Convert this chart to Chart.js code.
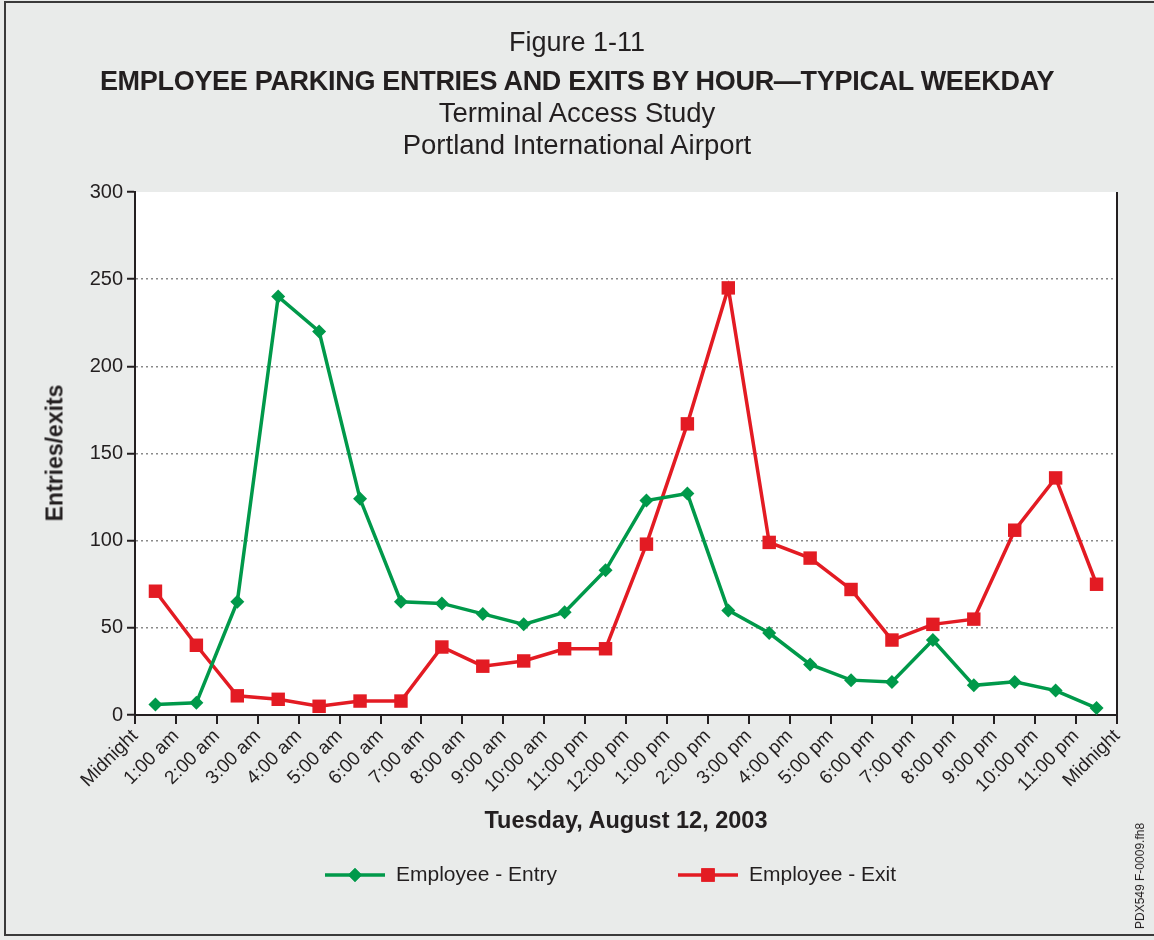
<!DOCTYPE html>
<html>
<head>
<meta charset="utf-8">
<script src="https://cdn.jsdelivr.net/npm/chart.js@4"></script>
<style>
  body { margin: 0; background: #e9ebea; }
  #frame { position: absolute; left: 4px; top: 1px; width: 1152px; height: 935px; border: 2px solid #3a3a3a; box-sizing: border-box; background: #e9ebea; }
  #wrap { position: absolute; left: 0; top: 0; width: 1154px; height: 940px; }
  .t { position: absolute; left: 0; width: 1154px; text-align: center; color: #231f20; font-family: "Liberation Sans", Arial, sans-serif; line-height: 32px; }
  #ytitle { position: absolute; left: 55px; top: 453px; transform: translate(-50%, -50%) rotate(-90deg); font: bold 23px "Liberation Sans", Arial, sans-serif; color: #231f20; white-space: nowrap; }
  #xtitle { position: absolute; left: 626px; top: 807px; transform: translateX(-50%); font: bold 23.5px "Liberation Sans", Arial, sans-serif; color: #231f20; white-space: nowrap; }
  #code { position: absolute; left: 1140px; top: 876px; transform: translate(-50%, -50%) rotate(-90deg); font: 12px "Liberation Sans", Arial, sans-serif; color: #231f20; white-space: nowrap; }
</style>
</head>
<body>
<div id="frame"></div>
<div id="wrap">
  <canvas id="chart" width="1154" height="940"></canvas>
  <div class="t" style="top:26px;font-size:27px;">Figure 1-11</div>
  <div class="t" style="top:65px;font-size:27px;font-weight:bold;letter-spacing:-0.3px;">EMPLOYEE PARKING ENTRIES AND EXITS BY HOUR—TYPICAL WEEKDAY</div>
  <div class="t" style="top:97px;font-size:27.5px;">Terminal Access Study</div>
  <div class="t" style="top:129px;font-size:27.5px;">Portland International Airport</div>
  <div id="ytitle">Entries/exits</div>
  <div id="xtitle">Tuesday, August 12, 2003</div>
  <div id="code">PDX549 F-0009.fh8</div>
</div>
<script>
// tick labels sit on the hour lines, values are plotted between them
const hourLabels = ['Midnight', '1:00 am', '2:00 am', '3:00 am', '4:00 am', '5:00 am', '6:00 am',
  '7:00 am', '8:00 am', '9:00 am', '10:00 am', '11:00 pm', '12:00 pm', '1:00 pm', '2:00 pm',
  '3:00 pm', '4:00 pm', '5:00 pm', '6:00 pm', '7:00 pm', '8:00 pm', '9:00 pm', '10:00 pm',
  '11:00 pm', 'Midnight'];
const entryValues = [6, 7, 65, 240, 220, 124, 65, 64, 58, 52, 59, 83, 123, 127, 60, 47, 29, 20, 19, 43, 17, 19, 14, 4];
const exitValues = [71, 40, 11, 9, 5, 8, 8, 39, 28, 31, 38, 38, 98, 167, 245, 99, 90, 72, 43, 52, 55, 106, 136, 75];
const yTicks = [0, 50, 100, 150, 200, 250, 300];

const green = '#00994a';
const red = '#e31b23';

function toPoints(vals) {
  return vals.map((v, i) => ({ x: i + 0.5, y: v }));
}

// white plot background, right frame line, legend
const plotBox = {
  id: 'plotBox',
  beforeDraw(chart) {
    const a = chart.chartArea, ctx = chart.ctx;
    ctx.save();
    ctx.fillStyle = '#ffffff';
    ctx.fillRect(a.left, a.top, a.right - a.left, a.bottom - a.top);
    ctx.restore();
  },
  afterDraw(chart) {
    const a = chart.chartArea, ctx = chart.ctx;
    ctx.save();
    ctx.strokeStyle = '#231f20';
    ctx.lineWidth = 2;
    ctx.beginPath();
    ctx.moveTo(a.right, a.top);
    ctx.lineTo(a.right, a.bottom);
    ctx.stroke();

    const items = [
      { x: 325, color: green, style: 'rectRot', r: 7, text: 'Employee - Entry' },
      { x: 678, color: red, style: 'rect', r: 9.5, text: 'Employee - Exit' }
    ];
    const ly = 875;
    ctx.font = '21px "Liberation Sans", Arial, sans-serif';
    ctx.textBaseline = 'middle';
    items.forEach(it => {
      ctx.strokeStyle = it.color;
      ctx.lineWidth = 3.5;
      ctx.beginPath();
      ctx.moveTo(it.x, ly);
      ctx.lineTo(it.x + 60, ly);
      ctx.stroke();
      ctx.fillStyle = it.color;
      Chart.helpers.drawPoint(ctx, { pointStyle: it.style, radius: it.r, borderWidth: 0 }, it.x + 30, ly);
      ctx.fill();
      ctx.fillStyle = '#231f20';
      ctx.fillText(it.text, it.x + 71, ly);
    });
    ctx.restore();
  }
};

new Chart(document.getElementById('chart'), {
  type: 'scatter',
  data: {
    datasets: [{
      label: 'Employee - Entry',
      data: toPoints(entryValues),
      showLine: true,
      borderColor: green,
      backgroundColor: green,
      borderWidth: 3.5,
      pointStyle: 'rectRot',
      pointRadius: 7,
      pointBorderWidth: 0,
      pointBackgroundColor: green
    }, {
      label: 'Employee - Exit',
      data: toPoints(exitValues),
      showLine: true,
      borderColor: red,
      backgroundColor: red,
      borderWidth: 3.5,
      pointStyle: 'rect',
      pointRadius: 9.5,
      pointBorderWidth: 0,
      pointBackgroundColor: red
    }]
  },
  options: {
    responsive: false,
    animation: false,
    layout: { padding: { left: 75, right: 37, top: 192, bottom: 125 } },
    plugins: { legend: { display: false }, tooltip: { enabled: false } },
    scales: {
      x: {
        type: 'linear',
        min: 0,
        max: 24,
        afterBuildTicks: axis => { axis.ticks = hourLabels.map((l, i) => ({ value: i })); },
        afterFit: axis => { axis.height = 100; },
        ticks: {
          autoSkip: false,
          maxRotation: 45,
          minRotation: 45,
          padding: 1,
          color: '#231f20',
          font: { family: '"Liberation Sans", Arial, sans-serif', size: 19 },
          callback: v => hourLabels[v]
        },
        grid: { drawOnChartArea: false, tickLength: 9, color: '#231f20', lineWidth: 2 },
        border: { color: '#231f20', width: 2 }
      },
      y: {
        min: 0,
        max: 300,
        afterBuildTicks: axis => { axis.ticks = yTicks.map(v => ({ value: v })); },
        afterFit: axis => { axis.width = 60; },
        ticks: {
          padding: 4,
          color: '#231f20',
          font: { family: '"Liberation Sans", Arial, sans-serif', size: 20 }
        },
        grid: {
          tickLength: 8,
          lineWidth: 1.5,
          color: ctx => (ctx.tick && (ctx.tick.value === 0 || ctx.tick.value === 300)) ? 'rgba(0,0,0,0)' : '#8a8a8a',
          tickColor: '#231f20',
          tickWidth: 2,
          tickBorderDash: []
        },
        border: { color: '#231f20', width: 2, dash: [2, 3] }
      }
    }
  },
  plugins: [plotBox]
});
</script>
</body>
</html>
